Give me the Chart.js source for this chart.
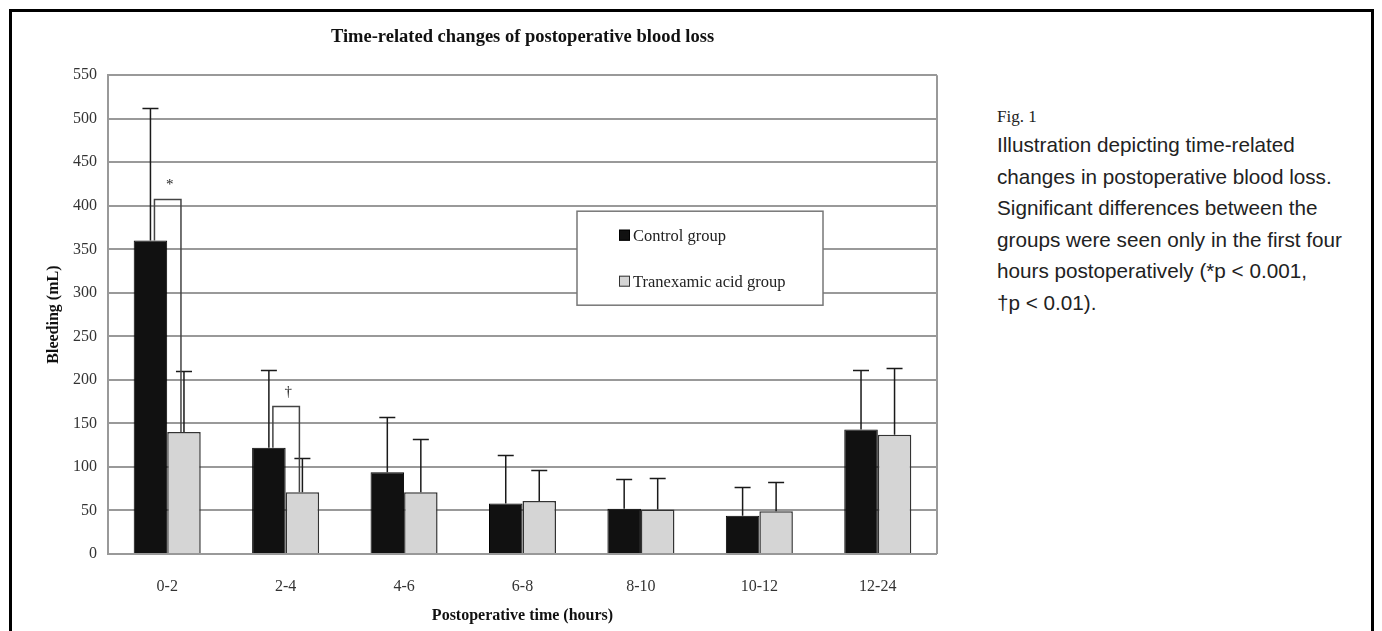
<!DOCTYPE html>
<html>
<head>
<meta charset="utf-8">
<script src="https://cdn.jsdelivr.net/npm/chart.js@4.4.1/dist/chart.umd.min.js"></script>
<style>
  html, body { margin: 0; padding: 0; background: #fff; overflow: hidden; }
  body { width: 1382px; height: 631px; position: relative; }
  #frame {
    position: absolute; left: 9px; top: 9px; width: 1359px; height: 700px;
    border: 3px solid #000;
  }
  #chartBox { position: absolute; left: 0; top: 0; width: 946px; height: 631px; }
  #fig {
    position: absolute; left: 997px; top: 107px;
    font: 17px "Liberation Serif", "Times New Roman", serif; color: #222; line-height: 20px;
  }
  #caption {
    position: absolute; left: 997px; top: 129px;
    font: 20.7px "Liberation Sans", Arial, sans-serif; color: #222; line-height: 31.6px;
    white-space: nowrap;
  }
</style>
</head>
<body>
<div id="frame"></div>
<div id="chartBox"><canvas id="chart"></canvas></div>
<div id="fig">Fig. 1</div>
<div id="caption">Illustration depicting time-related<br>changes in postoperative blood loss.<br>Significant differences between the<br>groups were seen only in the first four<br>hours postoperatively (*p &lt; 0.001,<br>&dagger;p &lt; 0.01).</div>
<script>
// time intervals after surgery
const categories = ["0-2", "2-4", "4-6", "6-8", "8-10", "10-12", "12-24"];

// mean bleeding (mL) and top of the error bar (mean + SD)
const controlMeans = [360, 122, 94, 58, 52, 44, 143];
const controlUpper = [512, 211, 157, 114, 86, 77, 211];
const tranexamicMeans = [140, 71, 71, 61, 51, 49, 137];
const tranexamicUpper = [210, 110, 132, 97, 87, 83, 214];

// significance brackets: category index, bracket height (mL), marker
const sigIndex = [0, 1];
const sigHeight = [408, 170];
const sigMark = ["*", "\u2020"];

const serif = '"Liberation Serif", "Times New Roman", serif';

const overlayPlugin = {
  id: "overlay",
  afterDatasetsDraw(chart) {
    const { ctx, chartArea: ca } = chart;
    const y = chart.scales.y;
    const upper = [controlUpper, tranexamicUpper];
    ctx.save();

    // right edge of plot
    ctx.strokeStyle = "#999";
    ctx.lineWidth = 2;
    ctx.beginPath();
    ctx.moveTo(ca.right, ca.top);
    ctx.lineTo(ca.right, ca.bottom);
    ctx.stroke();

    // error bars (upper only)
    ctx.strokeStyle = "#1a1a1a";
    ctx.lineWidth = 1.5;
    upper.forEach((vals, di) => {
      chart.getDatasetMeta(di).data.forEach((bar, i) => {
        const yt = Math.round(y.getPixelForValue(vals[i])) + 0.5;
        ctx.beginPath();
        ctx.moveTo(bar.x, bar.y);
        ctx.lineTo(bar.x, yt);
        ctx.moveTo(bar.x - 8, yt);
        ctx.lineTo(bar.x + 8, yt);
        ctx.stroke();
      });
    });

    // significance brackets
    const m0 = chart.getDatasetMeta(0).data;
    const m1 = chart.getDatasetMeta(1).data;
    ctx.strokeStyle = "#444";
    ctx.lineWidth = 1.5;
    ctx.fillStyle = "#222";
    ctx.font = "15px " + serif;
    ctx.textAlign = "center";
    ctx.textBaseline = "middle";
    sigIndex.forEach((idx, k) => {
      const a = m0[idx], b = m1[idx];
      const yb = Math.round(y.getPixelForValue(sigHeight[k])) + 0.5;
      const xl = a.x + 4, xr = b.x - 3;
      ctx.beginPath();
      ctx.moveTo(xl, a.y);
      ctx.lineTo(xl, yb);
      ctx.lineTo(xr, yb);
      ctx.lineTo(xr, b.y);
      ctx.stroke();
      ctx.fillText(sigMark[k], (xl + xr) / 2 + 2, yb - 14);
    });

    // legend box inside the plot
    const lx = ca.left + 469, ly = ca.top + 136, lw = 246, lh = 94;
    ctx.fillStyle = "#fff";
    ctx.fillRect(lx, ly, lw, lh);
    ctx.strokeStyle = "#777";
    ctx.lineWidth = 1.5;
    ctx.strokeRect(lx, ly, lw, lh);
    ctx.font = "16.5px " + serif;
    ctx.textAlign = "left";
    chart.data.datasets.forEach((ds, i) => {
      const cy = ly + 24 + i * 46;
      ctx.fillStyle = ds.backgroundColor;
      ctx.fillRect(lx + 42, cy - 5.5, 11, 11);
      ctx.strokeStyle = ds.borderColor;
      ctx.lineWidth = 1;
      ctx.strokeRect(lx + 42.5, cy - 5, 10, 10);
      ctx.fillStyle = "#222";
      ctx.fillText(ds.label, lx + 56, cy + 1);
    });

    ctx.restore();
  }
};

new Chart(document.getElementById("chart"), {
  type: "bar",
  data: {
    labels: categories,
    datasets: [
      {
        label: "Control group",
        data: controlMeans,
        backgroundColor: "#111",
        borderColor: "#000",
        borderWidth: 1
      },
      {
        label: "Tranexamic acid group",
        data: tranexamicMeans,
        backgroundColor: "#d5d5d5",
        borderColor: "#333",
        borderWidth: 1.5
      }
    ]
  },
  options: {
    responsive: true,
    maintainAspectRatio: false,
    animation: false,
    layout: { padding: { left: 0, right: 9, top: 0, bottom: 0 } },
    datasets: { bar: { categoryPercentage: 0.566, barPercentage: 1.0 } },
    plugins: {
      legend: { display: false },
      tooltip: { enabled: false },
      title: {
        display: true,
        fullSize: false,
        text: "Time-related changes of postoperative blood loss",
        color: "#111",
        font: { family: serif, size: 18.5, weight: "bold" },
        padding: { top: 26, bottom: 27 }
      }
    },
    scales: {
      x: {
        grid: { display: false, drawTicks: false },
        border: { display: false },
        ticks: { color: "#333", font: { family: serif, size: 16 }, padding: 23 },
        title: {
          display: true,
          text: "Postoperative time (hours)",
          color: "#111",
          font: { family: serif, size: 16, weight: "bold" },
          padding: { top: 0, bottom: 6 }
        },
        afterFit(scale) { scale.height = 77; }
      },
      y: {
        min: 0,
        max: 550,
        ticks: { stepSize: 50, color: "#333", font: { family: serif, size: 16 }, padding: 11 },
        grid: { color: "#999", lineWidth: 2, drawTicks: false },
        border: { color: "#999", width: 2 },
        title: {
          display: true,
          text: "Bleeding (mL)",
          color: "#111",
          font: { family: serif, size: 16, weight: "bold" },
          padding: { top: 44, bottom: 0 }
        },
        afterFit(scale) { scale.width = 108; }
      }
    }
  },
  plugins: [overlayPlugin]
});
</script>
</body>
</html>
